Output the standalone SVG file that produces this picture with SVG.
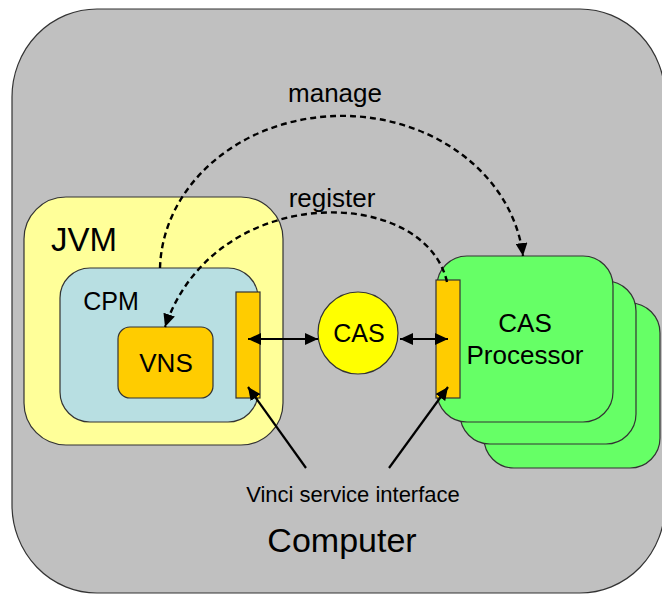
<svg xmlns="http://www.w3.org/2000/svg" width="662" height="595" viewBox="0 0 662 595">
<style>
.box{stroke:#333;stroke-width:1.2}
.lbl{font-family:"Liberation Sans",Arial,sans-serif;fill:#000;text-anchor:middle}
.solid{stroke:#000;stroke-width:2.2;fill:none}
.dash{stroke:#000;stroke-width:2.4;fill:none;stroke-dasharray:6 4}
</style>
<defs>
<marker id="ah" markerUnits="userSpaceOnUse" markerWidth="14" markerHeight="12" refX="13" refY="6" orient="auto-start-reverse">
<path d="M0,0 L13,6 L0,12 z" fill="#000"/>
</marker>
</defs>
<rect width="662" height="595" fill="#fff"/>
<g id="computer">
<rect class="box" x="12" y="9" width="653" height="584" rx="85" ry="88" fill="#C0C0C0"/>
<text class="lbl" x="342" y="552" font-size="34">Computer</text>
</g>
<g id="jvm">
<rect class="box" x="24" y="197" width="259" height="248" rx="42" fill="#FFFF99"/>
<text class="lbl" x="84" y="251" font-size="33">JVM</text>
</g>
<g id="cpm">
<rect class="box" x="60" y="268" width="198" height="154" rx="30" fill="#B8DFE2"/>
<text class="lbl" x="111" y="310" font-size="25">CPM</text>
</g>
<g id="vns">
<rect class="box" x="118" y="327" width="95" height="71" rx="12" fill="#FFCC00"/>
<text class="lbl" x="166" y="372" font-size="26">VNS</text>
</g>
<g id="vinci-left">
<rect class="box" x="236" y="292" width="24" height="106" fill="#FFCC00"/>
</g>
<g id="cas-processor">
<rect class="box" x="484" y="303" width="176" height="165" rx="30" fill="#66FF66"/>
<rect class="box" x="460" y="281" width="176" height="163" rx="30" fill="#66FF66"/>
<rect class="box" x="437" y="256" width="176" height="166" rx="30" fill="#66FF66"/>
<text class="lbl" x="525" y="332" font-size="26">CAS</text>
<text class="lbl" x="525" y="364" font-size="26">Processor</text>
</g>
<g id="vinci-right">
<rect class="box" x="436" y="280" width="24" height="118" fill="#FFCC00"/>
</g>
<g id="cas">
<ellipse class="box" cx="358" cy="333" rx="40" ry="41" fill="#FFFF00"/>
<text class="lbl" x="359" y="342" font-size="25">CAS</text>
</g>
<g id="connectors">
<path class="dash" d="M160,268 A182,156 0 0 1 523,256" marker-end="url(#ah)"/>
<path class="dash" d="M447,282 C425,185 215,180 165,327" marker-end="url(#ah)"/>
<path class="solid" d="M248,339 L318,339" marker-start="url(#ah)" marker-end="url(#ah)"/>
<path class="solid" d="M400,339 L448,339" marker-start="url(#ah)" marker-end="url(#ah)"/>
<path class="solid" d="M306,468 L248,387" marker-end="url(#ah)"/>
<path class="solid" d="M389,468 L448,387" marker-end="url(#ah)"/>
</g>
<g id="labels">
<text class="lbl" x="335" y="102" font-size="26">manage</text>
<text class="lbl" x="332" y="207" font-size="26">register</text>
<text class="lbl" x="353" y="502" font-size="22">Vinci service interface</text>
</g>
</svg>
